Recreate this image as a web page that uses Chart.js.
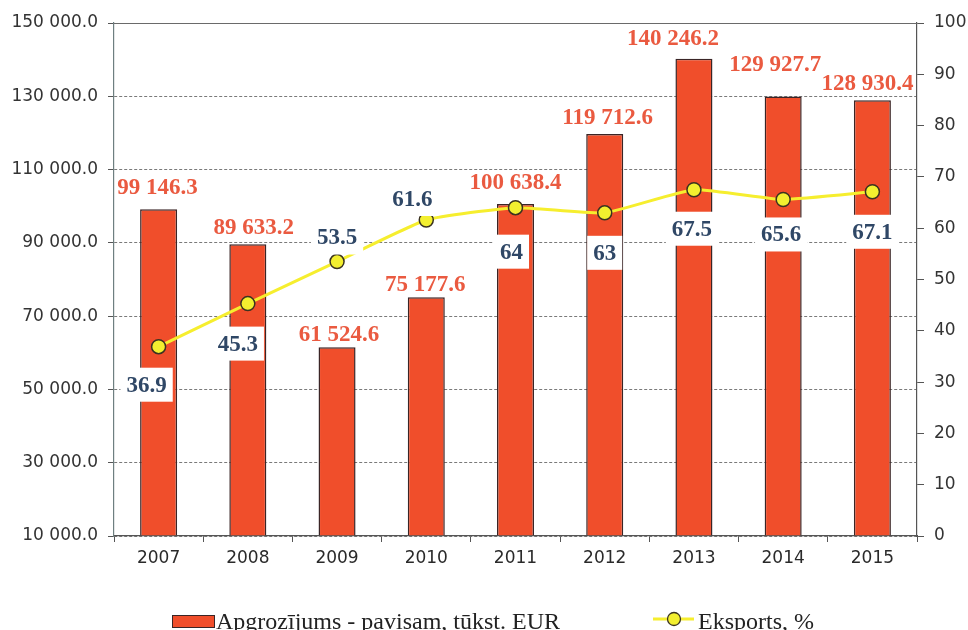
<!DOCTYPE html>
<html>
<head>
<meta charset="utf-8">
<script src="https://cdn.jsdelivr.net/npm/chart.js@4"></script>
<style>
  html, body { margin: 0; padding: 0; background: #ffffff; }
  #wrap { width: 968px; height: 630px; position: relative; }
</style>
</head>
<body>
<div id="wrap"><canvas id="c"></canvas></div>
<script>
// ---- data ----
const categories = ['2007', '2008', '2009', '2010', '2011', '2012', '2013', '2014', '2015'];
const turnover = [99146.3, 89633.2, 61524.6, 75177.6, 100638.4, 119712.6, 140246.2, 129927.7, 128930.4];
const exportShare = [36.9, 45.3, 53.5, 61.6, 64, 63, 67.5, 65.6, 67.1];
const leftTicks = [10000, 30000, 50000, 70000, 90000, 110000, 130000, 150000];
const rightTicks = [0, 10, 20, 30, 40, 50, 60, 70, 80, 90, 100];
const seriesNames = ['Apgrozījums - pavisam, tūkst. EUR', 'Eksports, %'];

// ---- style: label offsets (px) relative to bar top / point ----
const barLabelShift = [[-1, -21], [6, -16], [2, -12], [-1, -12], [0, -21], [3, -16], [-21, -20], [-8, -31], [-5, -16]];
const lineLabelShift = [[-12, 38], [-10, 40], [0, -24], [-14, -21], [-4, 44], [0, 40], [-2, 39], [-2, 35], [0, 40]];

const BAR_FILL = '#f04e2b';
const BAR_EDGE = '#3a2526';
const LINE_COL = '#f6ee2e';
const POINT_FILL = '#f3ef2f';
const POINT_EDGE = '#3b3320';
const BAR_LABEL_COL = '#ea5a40';
const LINE_LABEL_COL = '#2f4766';
const AXIS_COL = '#555555';
const GRID_COL = '#7a7a7a';
const TICK_FONT = { family: 'DejaVu Sans', size: 17 };
const VALUE_FONT = 'bold 23px "Liberation Serif", "DejaVu Serif", serif';

function fmtThousands(v) {
  const s = v.toFixed(1);
  const [i, d] = s.split('.');
  return i.replace(/\B(?=(\d{3})+(?!\d))/g, ' ') + '.' + d;
}

const labelsPlugin = {
  id: 'valueLabels',
  afterDatasetsDraw(chart) {
    const ctx = chart.ctx;
    ctx.save();
    ctx.font = VALUE_FONT;
    ctx.textAlign = 'center';
    ctx.textBaseline = 'middle';
    // bar labels
    const barMeta = chart.getDatasetMeta(0);
    barMeta.data.forEach((el, i) => {
      const [dx, dy] = barLabelShift[i];
      ctx.fillStyle = BAR_LABEL_COL;
      ctx.fillText(fmtThousands(turnover[i]), el.x + dx, el.y + dy);
    });
    // line labels with white boxes
    const lineMeta = chart.getDatasetMeta(1);
    lineMeta.data.forEach((el, i) => {
      const [dx, dy] = lineLabelShift[i];
      const txt = String(exportShare[i]);
      const w = ctx.measureText(txt).width;
      const cx = el.x + dx, cy = el.y + dy;
      ctx.fillStyle = '#ffffff';
      ctx.fillRect(cx - w / 2 - 6, cy - 17, w + 12, 34);
      ctx.fillStyle = LINE_LABEL_COL;
      ctx.fillText(txt, cx, cy + 1);
    });
    ctx.restore();
  }
};

const framePlugin = {
  id: 'frameAndLegend',
  afterDraw(chart) {
    const ctx = chart.ctx;
    const a = chart.chartArea;
    ctx.save();
    // solid top border
    ctx.strokeStyle = '#6a6a6a';
    ctx.lineWidth = 1.2;
    ctx.beginPath();
    ctx.moveTo(a.left, a.top + 0.5);
    ctx.lineTo(a.right, a.top + 0.5);
    ctx.stroke();

    // custom legend
    const ly = 621;
    ctx.font = '24px "Liberation Serif", "DejaVu Serif", serif';
    ctx.textBaseline = 'alphabetic';
    ctx.textAlign = 'left';
    // bar item
    ctx.fillStyle = BAR_FILL;
    ctx.fillRect(172, ly - 6, 43, 13);
    ctx.strokeStyle = BAR_EDGE;
    ctx.lineWidth = 1;
    ctx.strokeRect(172.5, ly - 5.5, 42, 12);
    ctx.fillStyle = '#222222';
    ctx.fillText(seriesNames[0], 216, 629);
    // line item
    ctx.strokeStyle = LINE_COL;
    ctx.lineWidth = 3;
    ctx.beginPath();
    ctx.moveTo(653, ly - 2);
    ctx.lineTo(694, ly - 2);
    ctx.stroke();
    ctx.beginPath();
    ctx.arc(674, ly - 2, 6.5, 0, Math.PI * 2);
    ctx.fillStyle = POINT_FILL;
    ctx.fill();
    ctx.strokeStyle = POINT_EDGE;
    ctx.lineWidth = 1.3;
    ctx.stroke();
    ctx.fillStyle = '#222222';
    ctx.fillText(seriesNames[1], 698, 629);
    ctx.restore();
  }
};

new Chart(document.getElementById('c'), {
  data: {
    labels: categories,
    datasets: [
      {
        type: 'bar',
        label: seriesNames[0],
        data: turnover,
        yAxisID: 'y',
        base: leftTicks[0],
        backgroundColor: BAR_FILL,
        borderColor: BAR_EDGE,
        borderWidth: 1.5,
        barPercentage: 0.83,
        categoryPercentage: 0.5,
        order: 1
      },
      {
        type: 'line',
        label: seriesNames[1],
        data: exportShare,
        yAxisID: 'y1',
        borderColor: LINE_COL,
        borderWidth: 3,
        tension: 0.15,
        pointRadius: 7,
        pointBackgroundColor: POINT_FILL,
        pointBorderColor: POINT_EDGE,
        pointBorderWidth: 1.5,
        order: 0
      }
    ]
  },
  options: {
    responsive: true,
    maintainAspectRatio: false,
    animation: false,
    layout: { padding: { top: 23, left: 0, right: 0, bottom: 0 } },
    plugins: {
      legend: { display: false },
      tooltip: { enabled: false }
    },
    scales: {
      x: {
        offset: true,
        grid: { display: true, offset: true, drawOnChartArea: false, drawTicks: true, tickLength: 6, color: AXIS_COL, lineWidth: 1 },
        border: { display: true, color: AXIS_COL, width: 1.2 },
        ticks: { color: '#2a2a2a', font: TICK_FONT, padding: 6, maxRotation: 0 },
        afterFit(scale) { scale.height = 94; }
      },
      y: {
        position: 'left',
        min: leftTicks[0],
        max: leftTicks[leftTicks.length - 1],
        afterBuildTicks(scale) { scale.ticks = leftTicks.map(v => ({ value: v })); },
        grid: { color: GRID_COL, lineWidth: 1, tickLength: 6, tickColor: AXIS_COL, drawTicks: true },
        border: { display: true, color: '#6e7f80', width: 1.2, dash: [3, 2] },
        ticks: { color: '#333333', font: TICK_FONT, padding: 10, callback: v => fmtThousands(v) },
        afterFit(scale) { scale.width = 114; }
      },
      y1: {
        position: 'right',
        min: rightTicks[0],
        max: rightTicks[rightTicks.length - 1],
        afterBuildTicks(scale) { scale.ticks = rightTicks.map(v => ({ value: v })); },
        grid: { drawOnChartArea: false, drawTicks: true, tickLength: 7, color: AXIS_COL },
        border: { display: true, color: AXIS_COL, width: 1.2 },
        ticks: { color: '#333333', font: TICK_FONT, padding: 10 },
        afterFit(scale) { scale.width = 51; }
      }
    }
  },
  plugins: [labelsPlugin, framePlugin]
});
</script>
</body>
</html>
